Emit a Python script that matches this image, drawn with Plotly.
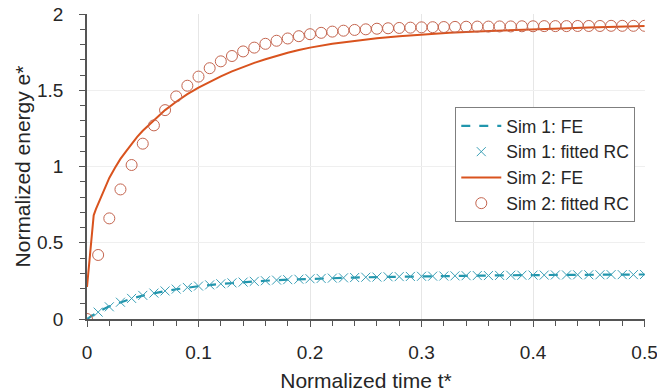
import plotly.graph_objects as go

# ---------------- data ----------------
t_rc = [0.00, 0.01, 0.02, 0.03, 0.04, 0.05, 0.06, 0.07, 0.08, 0.09,
        0.10, 0.11, 0.12, 0.13, 0.14, 0.15, 0.16, 0.17, 0.18, 0.19,
        0.20, 0.21, 0.22, 0.23, 0.24, 0.25, 0.26, 0.27, 0.28, 0.29,
        0.30, 0.31, 0.32, 0.33, 0.34, 0.35, 0.36, 0.37, 0.38, 0.39,
        0.40, 0.41, 0.42, 0.43, 0.44, 0.45, 0.46, 0.47, 0.48, 0.49, 0.50]

sim1_rc = [0.000, 0.045, 0.080, 0.110, 0.135, 0.155, 0.170, 0.184, 0.196, 0.207,
           0.216, 0.224, 0.231, 0.237, 0.242, 0.247, 0.251, 0.255, 0.258, 0.261,
           0.264, 0.266, 0.268, 0.270, 0.272, 0.274, 0.275, 0.277, 0.278, 0.279,
           0.280, 0.281, 0.282, 0.283, 0.284, 0.285, 0.285, 0.286, 0.287, 0.287,
           0.288, 0.288, 0.289, 0.289, 0.290, 0.290, 0.290, 0.291, 0.291, 0.291, 0.292]

t_fe1 = [0.00, 0.01, 0.02, 0.03, 0.04, 0.05, 0.06, 0.07, 0.08, 0.09,
         0.10, 0.12, 0.14, 0.16, 0.18, 0.20, 0.22, 0.24, 0.26, 0.28,
         0.30, 0.32, 0.34, 0.36, 0.38, 0.40, 0.42, 0.44, 0.46, 0.48, 0.50]
sim1_fe = [0.000, 0.048, 0.083, 0.111, 0.134, 0.153, 0.169, 0.183, 0.195, 0.206,
           0.215, 0.230, 0.242, 0.251, 0.258, 0.264, 0.268, 0.272, 0.275, 0.278,
           0.280, 0.282, 0.284, 0.285, 0.287, 0.288, 0.289, 0.290, 0.290, 0.291, 0.292]

sim2_rc = [0.00, 0.42, 0.66, 0.85, 1.01, 1.15, 1.27, 1.37, 1.46, 1.53,
           1.59, 1.645, 1.69, 1.725, 1.755, 1.78, 1.805, 1.825, 1.84, 1.855,
           1.868, 1.877, 1.885, 1.891, 1.896, 1.90, 1.904, 1.907, 1.909, 1.911,
           1.913, 1.914, 1.915, 1.916, 1.917, 1.918, 1.918, 1.919, 1.919, 1.920,
           1.920, 1.921, 1.921, 1.921, 1.922, 1.922, 1.922, 1.923, 1.923, 1.923, 1.923]

t_fe2 = [0.000, 0.003, 0.006, 0.008, 0.010, 0.012, 0.015, 0.018, 0.020, 0.025,
         0.030, 0.035, 0.040, 0.045, 0.050, 0.060, 0.070, 0.080, 0.090, 0.100,
         0.110, 0.120, 0.130, 0.140, 0.150, 0.160, 0.170, 0.180, 0.190, 0.200,
         0.220, 0.240, 0.260, 0.280, 0.300, 0.325, 0.350, 0.375, 0.400, 0.425,
         0.450, 0.475, 0.500]
sim2_fe = [0.21, 0.45, 0.68, 0.72, 0.755, 0.79, 0.845, 0.895, 0.925, 0.99,
           1.05, 1.10, 1.15, 1.195, 1.235, 1.305, 1.37, 1.425, 1.475, 1.518,
           1.557, 1.592, 1.624, 1.653, 1.68, 1.704, 1.726, 1.746, 1.764, 1.78,
           1.806, 1.826, 1.842, 1.855, 1.866, 1.877, 1.886, 1.894, 1.90, 1.906,
           1.912, 1.917, 1.922]

x_ticks = [0, 0.1, 0.2, 0.3, 0.4, 0.5]
x_tick_text = ["0", "0.1", "0.2", "0.3", "0.4", "0.5"]
y_ticks = [0, 0.5, 1, 1.5, 2]
y_tick_text = ["0", "0.5", "1", "1.5", "2"]

# ---------------- figure ----------------
teal = "#2196ad"
teal_mk = "#3a9fb6"
red = "#d9531e"
circ = "#c4654f"
axcol = "#555555"
font = "Liberation Sans, Arial, sans-serif"

fig = go.Figure()
fig.add_trace(go.Scatter(x=t_fe1, y=sim1_fe, mode="lines", name="Sim 1: FE",
                         line=dict(color=teal, width=2.2, dash="dash")))
fig.add_trace(go.Scatter(x=t_rc, y=sim1_rc, mode="markers", name="Sim 1: fitted RC",
                         marker=dict(symbol="x-thin-open", size=9, color=teal_mk,
                                     line=dict(color=teal_mk, width=1))))
fig.add_trace(go.Scatter(x=t_fe2, y=sim2_fe, mode="lines", name="Sim 2: FE",
                         line=dict(color=red, width=2)))
fig.add_trace(go.Scatter(x=t_rc, y=sim2_rc, mode="markers", name="Sim 2: fitted RC",
                         marker=dict(symbol="circle-open", size=11, color=circ,
                                     line=dict(color=circ, width=1))))

fig.update_layout(
    width=657, height=392,
    margin=dict(l=87, r=12, t=14, b=73),
    paper_bgcolor="white", plot_bgcolor="white",
    font=dict(family=font, size=19, color="#262626"),
    showlegend=True,
    legend=dict(x=0.66, y=0.695, xanchor="left", yanchor="top",
                bgcolor="white", bordercolor="#7f7f7f", borderwidth=1,
                font=dict(size=17.5, color="#262626"),
                tracegroupgap=0, itemwidth=40),
)
fig.update_xaxes(
    range=[0, 0.5004], tickvals=x_ticks, ticktext=x_tick_text,
    showline=True, linecolor=axcol, linewidth=1.5,
    ticks="outside", ticklen=6, tickcolor=axcol, tickwidth=1,
    minor=dict(dtick=0.02, ticks="outside", ticklen=5, tickcolor=axcol, showgrid=False),
    showgrid=True, gridcolor="#e6e6e6", gridwidth=1,
    zeroline=False, automargin=False,
    title=dict(text="Normalized time t*", font=dict(size=21), standoff=12),
    ticklabelstandoff=9, ticklabeloverflow="allow",
)
fig.update_yaxes(
    range=[0, 2.0005], tickvals=y_ticks, ticktext=y_tick_text,
    showline=True, linecolor=axcol, linewidth=1.5,
    ticks="outside", ticklen=6, tickcolor=axcol, tickwidth=1,
    minor=dict(dtick=0.1, ticks="outside", ticklen=5, tickcolor=axcol, showgrid=False),
    showgrid=True, gridcolor="#efefef", gridwidth=1,
    zeroline=False, automargin=False,
    title=dict(text="Normalized energy e*", font=dict(size=21), standoff=1),
    ticklabelstandoff=12, ticklabeloverflow="allow",
)

fig.write_html("out.html")
